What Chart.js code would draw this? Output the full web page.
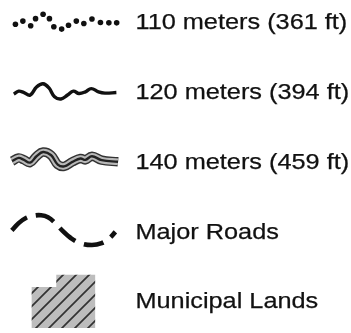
<!DOCTYPE html>
<html>
<head>
<meta charset="utf-8">
<script src="https://cdn.jsdelivr.net/npm/chart.js@4.4.0/dist/chart.umd.min.js"></script>
<style>
  body { margin: 0; background: #fff; }
  canvas { display: block; }
</style>
</head>
<body>
<canvas id="legend" width="351" height="333"></canvas>
<script>
// legend entries
var labels = ["110 meters (361 ft)", "120 meters (394 ft)", "140 meters (459 ft)", "Major Roads", "Municipal Lands"];
var labelY = [26, 97.5, 169, 241, 311];

// 110 m contour: single dots
var dots110 = [[11.7,20.7],[19.3,17.5],[27.3,22.3],[32.3,15],[40,10.5],[46.5,15],[51,23.3],[59,25.7],[66,21.7],[74,17.5],[81.7,20],[90,15.3],[98.7,19],[107.3,19.3],[115.3,19.3]];
// 120 m contour: solid wavy line
var line120 = [[10,92.3],[15,89.3],[20,90.5],[26.7,93.3],[33.3,85],[40,81.7],[46,86],[51.7,95],[58.3,97.3],[65,93.3],[71,89.3],[76.7,91.7],[83.3,90],[89.3,86.7],[96.7,90],[103.3,91.3],[115,90.7]];
// 140 m contour: triple line
var line140 = [[8.3,161],[15,157.7],[20,159.5],[26.7,162.5],[33.3,156],[40,151.7],[48.3,155],[55,164.5],[61.7,166.3],[70,161.7],[78.3,158.3],[83.3,159.7],[90,156],[100,160],[116.7,161.7]];
// major roads: dashed arc
var roads = [[8,232],[15,224.5],[22,219.5],[30,217],[38,216.5],[45,218.5],[52,224],[60,232.5],[68,239.5],[78,245],[90,247],[100,245],[108,240],[114,233.5]];
// municipal lands outline
var lands = [[28.3,290],[53.5,290],[53.5,277.3],[93.3,277.3],[93.3,332],[28.3,332],[28.3,290]];

function pts(arr) {
	var out = [];
	for (var i in arr) out.push({x: arr[i][0], y: arr[i][1]});
	return out;
}

// hatch pattern for the land patch
var pc = document.createElement("canvas");
pc.width = 13; pc.height = 13;
var p = pc.getContext("2d");
p.fillStyle = "#bdbdbd";
p.fillRect(0, 0, 13, 13);
p.strokeStyle = "#333";
p.lineWidth = 1.7;
p.beginPath();
p.moveTo(-2, 15); p.lineTo(15, -2);
p.moveTo(-2, 2); p.lineTo(2, -2);
p.moveTo(11, 15); p.lineTo(15, 11);
p.stroke();
var hatch = document.getElementById("legend").getContext("2d").createPattern(pc, "repeat");

var labelPlugin = {
	id: "labels",
	afterDraw: function(chart) {
		var ctx = chart.ctx;
		var ys = chart.scales.y, xs = chart.scales.x;
		ctx.save();
		ctx.fillStyle = "#111";
		ctx.strokeStyle = "#111";
		ctx.lineWidth = 0.25;
		ctx.font = "22px 'Liberation Sans', Arial, sans-serif";
		ctx.textBaseline = "alphabetic";
		for (var i in labels) {
			ctx.save();
			ctx.translate(xs.getPixelForValue(134.5), ys.getPixelForValue(labelY[i]));
			ctx.scale(1.15, 1);
			ctx.fillText(labels[i], 0, 0);
			ctx.strokeText(labels[i], 0, 0);
			ctx.restore();
		}
		ctx.restore();
	}
};

var LegendChart = new Chart(document.getElementById("legend"), {
	type: "line",
	data: {
		datasets: [
			{
				label: "110",
				data: pts(dots110),
				showLine: false,
				pointRadius: 2.8,
				pointBackgroundColor: "#111",
				pointBorderWidth: 0
			},
			{
				label: "120",
				data: pts(line120),
				borderColor: "#111",
				borderWidth: 3.4,
				tension: 0.4,
				pointRadius: 0
			},
			{
				label: "140 core",
				data: pts(line140),
				borderColor: "#222",
				borderWidth: 2.4,
				tension: 0.4,
				pointRadius: 0
			},
			{
				label: "140 fill",
				data: pts(line140),
				borderColor: "#b8b8b8",
				borderWidth: 6.6,
				tension: 0.4,
				pointRadius: 0
			},
			{
				label: "140 edge",
				data: pts(line140),
				borderColor: "#333",
				borderWidth: 9.5,
				tension: 0.4,
				pointRadius: 0
			},
			{
				label: "roads",
				data: pts(roads),
				borderColor: "#111",
				borderWidth: 4.6,
				borderDash: [20, 9],
				tension: 0.4,
				pointRadius: 0
			},
			{
				label: "lands",
				data: pts(lands),
				borderWidth: 0,
				borderColor: "rgba(0,0,0,0)",
				backgroundColor: hatch,
				fill: "shape",
				tension: 0,
				pointRadius: 0
			}
		]
	},
	options: {
		responsive: false,
		animation: false,
		layout: { padding: 0 },
		plugins: { legend: { display: false }, tooltip: { enabled: false } },
		scales: {
			x: { type: "linear", min: 0, max: 351, display: false },
			y: { type: "linear", min: 0, max: 333, reverse: true, display: false }
		}
	},
	plugins: [labelPlugin]
});
</script>
</body>
</html>
